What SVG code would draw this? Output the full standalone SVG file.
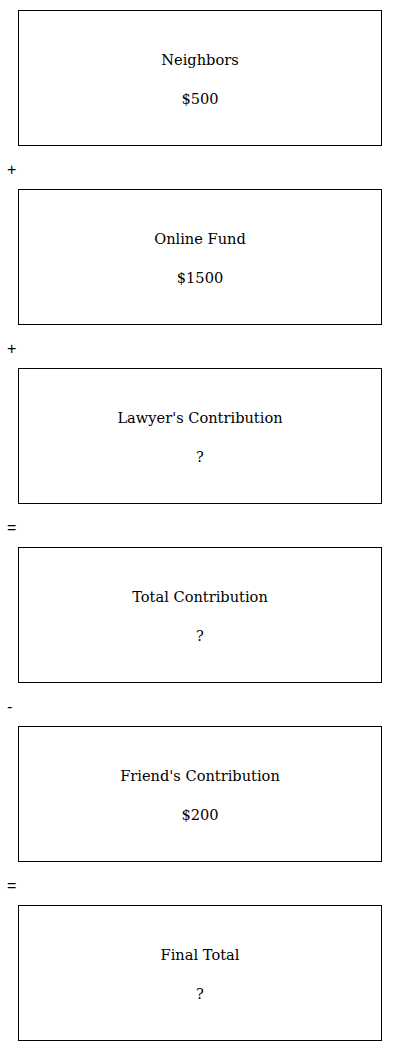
<svg xmlns="http://www.w3.org/2000/svg" width="400" height="1051" viewBox="0 0 400 1051">
<style>
.box{fill:#fff;stroke:#000;stroke-width:1}
.t{font-family:"DejaVu Serif","Liberation Serif",serif;font-size:14.6px;text-anchor:middle;fill:#000}
.op{font-family:"Liberation Sans",Arial,sans-serif;font-size:16px;fill:#000}
</style>
<rect width="400" height="1051" fill="#fff"/>
<g id="neighbors"><rect class="box" x="18.5" y="10.5" width="363" height="135"/><text class="t" x="200" y="65">Neighbors</text><text class="t" x="200" y="104">$500</text></g>
<g id="online"><rect class="box" x="18.5" y="189.5" width="363" height="135"/><text class="t" x="200" y="244">Online Fund</text><text class="t" x="200" y="283">$1500</text></g>
<g id="lawyer"><rect class="box" x="18.5" y="368.5" width="363" height="135"/><text class="t" x="200" y="423">Lawyer's Contribution</text><text class="t" x="200" y="462">?</text></g>
<g id="total"><rect class="box" x="18.5" y="547.5" width="363" height="135"/><text class="t" x="200" y="602">Total Contribution</text><text class="t" x="200" y="641">?</text></g>
<g id="friend"><rect class="box" x="18.5" y="726.5" width="363" height="135"/><text class="t" x="200" y="781">Friend's Contribution</text><text class="t" x="200" y="820">$200</text></g>
<g id="final"><rect class="box" x="18.5" y="905.5" width="363" height="135"/><text class="t" x="200" y="960">Final Total</text><text class="t" x="200" y="999">?</text></g>
<g id="connectors">
<text class="op" x="7" y="175">+</text>
<text class="op" x="7" y="354">+</text>
<text class="op" x="7" y="533">=</text>
<text class="op" x="7" y="712">-</text>
<text class="op" x="7" y="891">=</text>
</g>
</svg>
